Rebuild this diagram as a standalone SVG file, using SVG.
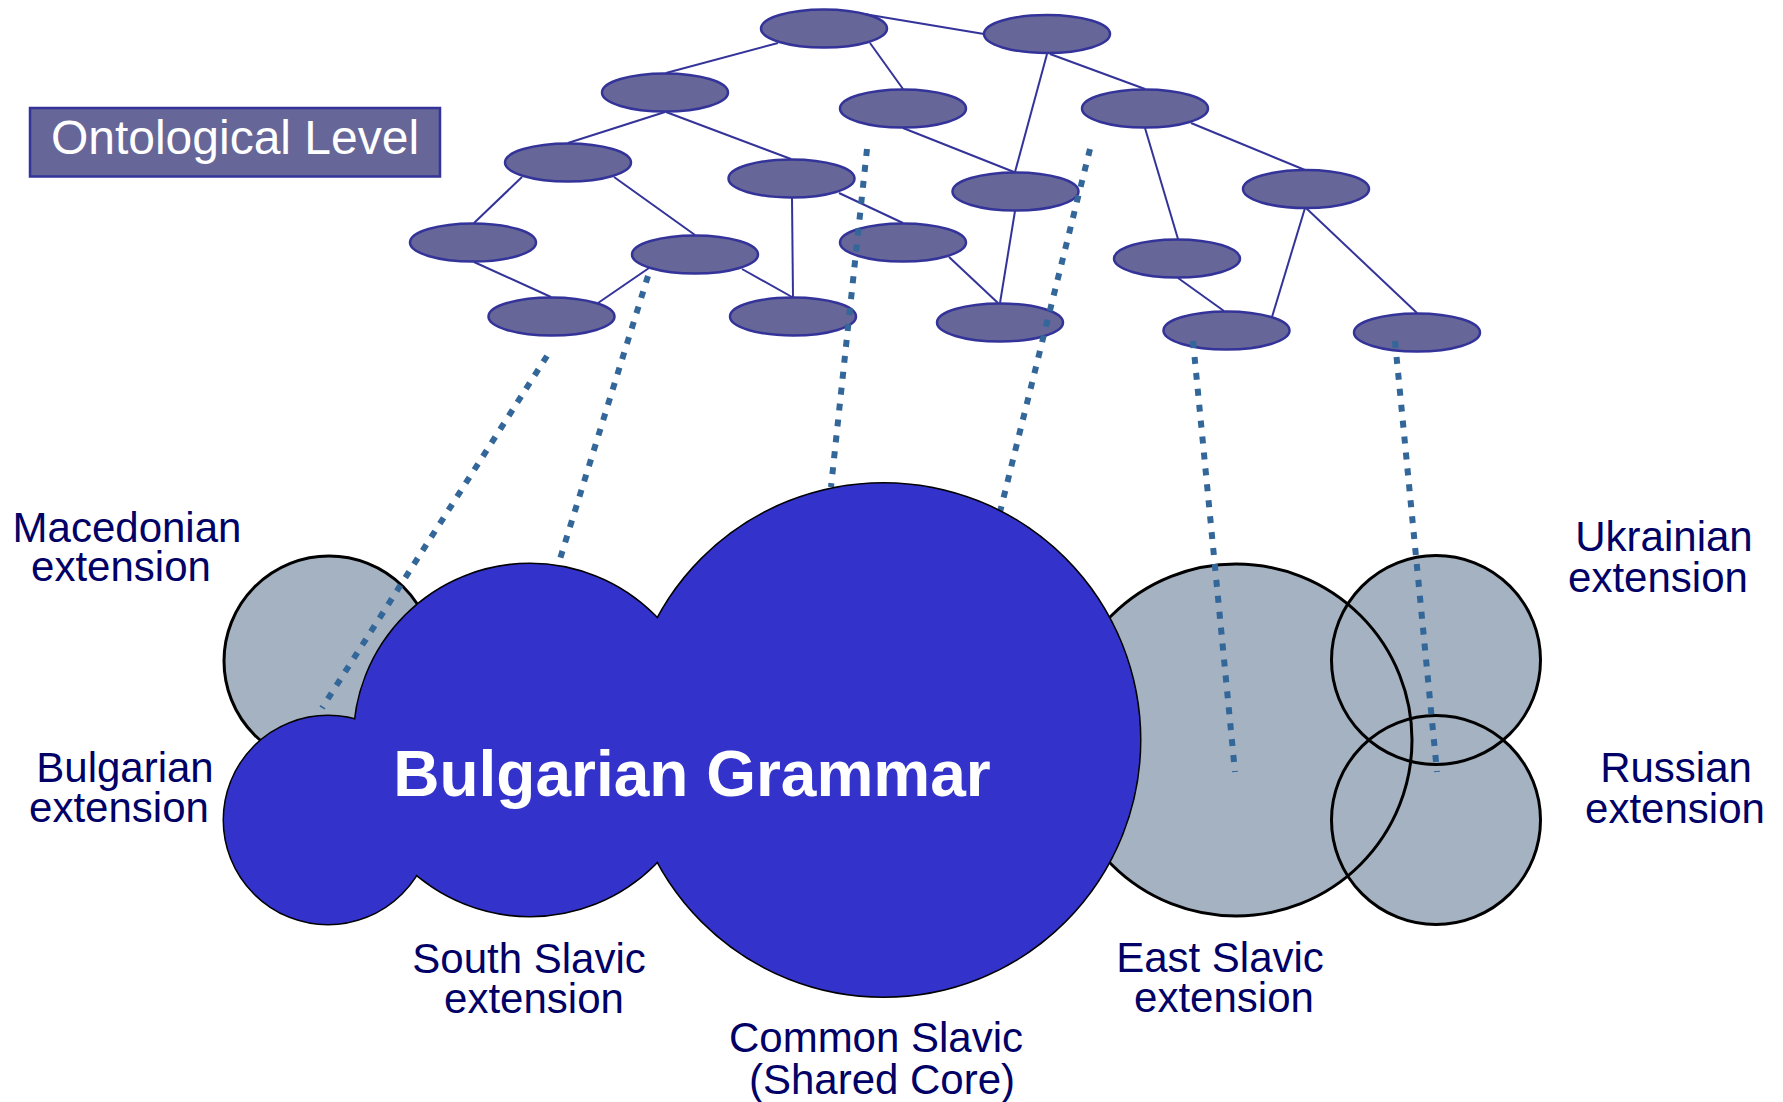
<svg xmlns="http://www.w3.org/2000/svg" width="1783" height="1102" viewBox="0 0 1783 1102">
<style>
.node{fill:#666699;stroke:#333399;stroke-width:2.5}
.edge{stroke:#333399;stroke-width:2;fill:none}
.dot{stroke:#336699;stroke-width:6;stroke-dasharray:7 9;fill:none}
.lbl{font-family:"Liberation Sans",Arial,sans-serif;font-size:42px;fill:#000066;text-anchor:middle}
.grey{fill:#A4B2C1}
.gline{fill:none;stroke:#000;stroke-width:3}
.blue{fill:#3333CC}
.bline{fill:none;stroke:#000;stroke-width:3}
</style>
<rect width="1783" height="1102" fill="#fff"/>
<g id="ontological-level">
<rect x="30" y="108" width="410" height="68.5" fill="#666699" stroke="#333399" stroke-width="2.5"/>
<text x="235" y="154" font-family="'Liberation Sans',Arial,sans-serif" font-size="48" fill="#fff" text-anchor="middle">Ontological Level</text>
</g>
<g id="edges">
<line class="edge" x1="778" y1="43" x2="666" y2="73"/>
<line class="edge" x1="870" y1="43" x2="903" y2="89"/>
<line class="edge" x1="858" y1="13" x2="984" y2="34"/>
<line class="edge" x1="1047" y1="54" x2="1015" y2="172"/>
<line class="edge" x1="1050" y1="54" x2="1145" y2="89"/>
<line class="edge" x1="665" y1="112" x2="568" y2="143"/>
<line class="edge" x1="666" y1="112" x2="791" y2="159"/>
<line class="edge" x1="903" y1="128" x2="1014" y2="172"/>
<line class="edge" x1="1145" y1="128" x2="1178" y2="239"/>
<line class="edge" x1="1191" y1="123" x2="1305" y2="170"/>
<line class="edge" x1="522" y1="177" x2="474" y2="223"/>
<line class="edge" x1="614" y1="177" x2="695" y2="235"/>
<line class="edge" x1="792" y1="198" x2="793" y2="297"/>
<line class="edge" x1="839" y1="193" x2="903" y2="223"/>
<line class="edge" x1="1015" y1="211" x2="1000" y2="303"/>
<line class="edge" x1="949" y1="257" x2="998" y2="303"/>
<line class="edge" x1="1305" y1="208" x2="1272" y2="317"/>
<line class="edge" x1="1306" y1="208" x2="1417" y2="313"/>
<line class="edge" x1="1178" y1="278" x2="1224" y2="311"/>
<line class="edge" x1="474" y1="262" x2="551" y2="297"/>
<line class="edge" x1="649" y1="268" x2="598" y2="303"/>
<line class="edge" x1="742" y1="269" x2="792" y2="297"/>
</g>
<g id="nodes">
<ellipse id="n1" class="node" cx="824" cy="28.5" rx="63" ry="19"/>
<ellipse id="n2" class="node" cx="1047" cy="34" rx="63" ry="19"/>
<ellipse id="n3" class="node" cx="665" cy="92.5" rx="63" ry="19"/>
<ellipse id="n4" class="node" cx="903" cy="108.5" rx="63" ry="19"/>
<ellipse id="n5" class="node" cx="1145" cy="108.5" rx="63" ry="19"/>
<ellipse id="n6" class="node" cx="568" cy="162.5" rx="63" ry="19"/>
<ellipse id="n7" class="node" cx="791.5" cy="178.5" rx="63" ry="19"/>
<ellipse id="n8" class="node" cx="1015.5" cy="191.5" rx="63" ry="19"/>
<ellipse id="n9" class="node" cx="1306" cy="189" rx="63" ry="19"/>
<ellipse id="n10" class="node" cx="473" cy="242.5" rx="63" ry="19"/>
<ellipse id="n11" class="node" cx="695" cy="254.5" rx="63" ry="19"/>
<ellipse id="n12" class="node" cx="903" cy="242.5" rx="63" ry="19"/>
<ellipse id="n13" class="node" cx="1177" cy="258.5" rx="63" ry="19"/>
<ellipse id="n14" class="node" cx="551.5" cy="316.5" rx="63" ry="19"/>
<ellipse id="n15" class="node" cx="793" cy="316.5" rx="63" ry="19"/>
<ellipse id="n16" class="node" cx="1000" cy="322.5" rx="63" ry="19"/>
<ellipse id="n17" class="node" cx="1226.5" cy="330.5" rx="63" ry="19"/>
<ellipse id="n18" class="node" cx="1417" cy="332.5" rx="63" ry="19"/>
</g>
<g id="macedonian">
<circle class="grey" cx="329" cy="661" r="105"/>
<circle class="gline" cx="329" cy="661" r="105"/>
</g>
<g id="east-slavic-group">
<circle id="east-slavic" class="grey" cx="1236" cy="740" r="176"/>
<circle id="ukrainian" class="grey" cx="1436" cy="660" r="104.5"/>
<circle id="russian" class="grey" cx="1436" cy="820" r="104.5"/>
<circle class="gline" cx="1236" cy="740" r="176"/>
<circle class="gline" cx="1436" cy="660" r="104.5"/>
<circle class="gline" cx="1436" cy="820" r="104.5"/>
</g>
<g id="mappings">
<line class="dot" x1="547" y1="356" x2="322" y2="708"/>
<line class="dot" x1="648" y1="276" x2="560" y2="559"/>
<line class="dot" x1="867" y1="149" x2="831" y2="487"/>
<line class="dot" x1="1090" y1="149" x2="1000" y2="512"/>
<line class="dot" x1="1193" y1="341" x2="1235" y2="772"/>
<line class="dot" x1="1395" y1="341" x2="1437" y2="772"/>
</g>
<g id="bulgarian-grammar">
<circle class="bline" cx="328" cy="820" r="104"/>
<circle class="bline" cx="530" cy="740" r="176"/>
<circle class="bline" cx="883.5" cy="740" r="256.5"/>
<circle class="blue" cx="328" cy="820" r="104"/>
<circle class="blue" cx="530" cy="740" r="176"/>
<circle class="blue" cx="883.5" cy="740" r="256.5"/>
<text x="692" y="796" font-family="'Liberation Sans',Arial,sans-serif" font-size="64" font-weight="bold" fill="#fff" text-anchor="middle">Bulgarian Grammar</text>
</g>
<g id="labels">
<text class="lbl" x="127" y="542">Macedonian</text>
<text class="lbl" x="121" y="581">extension</text>
<text class="lbl" x="125" y="782">Bulgarian</text>
<text class="lbl" x="119" y="822">extension</text>
<text class="lbl" x="529" y="973">South Slavic</text>
<text class="lbl" x="534" y="1013">extension</text>
<text class="lbl" x="876" y="1052">Common Slavic</text>
<text class="lbl" x="882" y="1094">(Shared Core)</text>
<text class="lbl" x="1220" y="972">East Slavic</text>
<text class="lbl" x="1224" y="1012">extension</text>
<text class="lbl" x="1664" y="551">Ukrainian</text>
<text class="lbl" x="1658" y="592">extension</text>
<text class="lbl" x="1676" y="782">Russian</text>
<text class="lbl" x="1675" y="823">extension</text>
</g>
</svg>
